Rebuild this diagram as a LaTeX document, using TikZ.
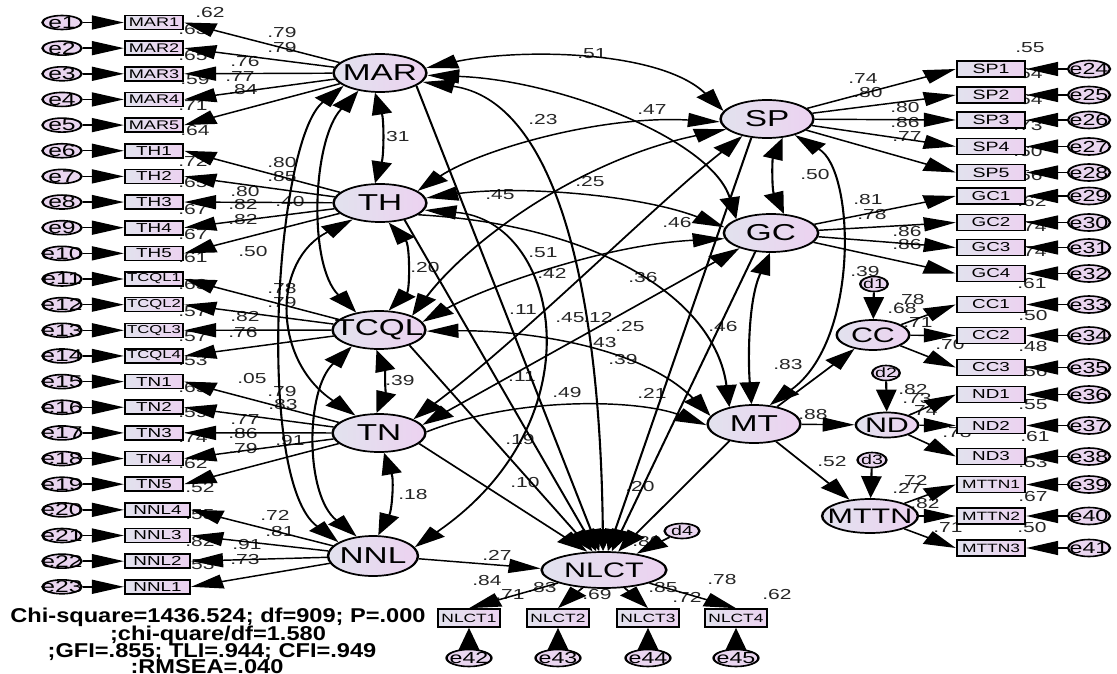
\documentclass[tikz,border=0pt]{standalone}
\usepackage{graphicx}
\usepackage{fontspec}
\setmainfont{Liberation Sans}
\usetikzlibrary{arrows.meta,shapes.geometric}
\definecolor{fL}{RGB}{226,226,238}
\definecolor{fR}{RGB}{236,210,240}
\definecolor{eF}{RGB}{234,214,240}
\newcounter{lbn}
\newcommand\coefl[3]{\stepcounter{lbn}\node[coef] (lb\arabic{lbn}) at (#1,#2) {#3};}
\tikzset{
 arr/.style={-{Triangle[length=22pt,width=14pt]}, line width=1.45pt},
 cov/.style={{Triangle[length=22pt,width=14pt]}-{Triangle[length=22pt,width=14pt]}, line width=1.45pt},
 lat/.style={ellipse, draw, line width=1.7pt, minimum width=64pt, minimum height=38pt, inner sep=0pt, left color=fL, right color=fR},
 latlab/.style={font=\fontsize{23}{23}\selectfont, inner sep=0pt},
 latsm/.style={font=\fontsize{21}{21}\selectfont, inner sep=0pt},
 ind/.style={rectangle, draw, line width=1.6pt, inner sep=0pt, left color=fL, right color=fR},
 err/.style={ellipse, draw, line width=1.6pt, inner sep=0pt, fill=eF},
 etxt/.style={font=\fontsize{17}{17}\selectfont, inner sep=0pt},
 etxr/.style={font=\fontsize{16}{16}\selectfont, inner sep=0pt},
 dtxt/.style={font=\fontsize{13.5}{13.5}\selectfont, inner sep=0pt},
 coef/.style={font=\fontsize{14.5}{14.5}\selectfont, inner sep=0pt, text=black!85},
 stat/.style={font=\fontsize{20}{20}\selectfont\bfseries, inner sep=0pt},
}
\begin{document}
\begin{tikzpicture}[x=1pt,y=-1pt]
\fill[white] (0,0) rectangle (1117,674);
\useasboundingbox (0,0) rectangle (1117,674);
% statistics
\node[stat] (st1) at (218,617) {\scalebox{1.18}[1]{Chi-square=1436.524; df=909; P=.000}};
\node[stat] (st2) at (218,635) {\scalebox{1.18}[1]{;chi-quare/df=1.580}};
\node[stat] (st3) at (212,652) {\scalebox{1.18}[1]{;GFI=.855; TLI=.944; CFI=.949}};
\node[stat] (st4) at (207,667) {\scalebox{1.18}[1]{:RMSEA=.040}};

\begin{scope}[x=0.689655pt, transform canvas={xscale=1.45}]
% ---------- coefficient labels ----------
\coefl{210}{13}{.62}\coefl{193}{30}{.63}\coefl{282}{33}{.79}\coefl{282}{48}{.79}
\coefl{193}{56}{.65}\coefl{245}{62}{.76}\coefl{240}{77}{.77}\coefl{195}{80}{.59}
\coefl{243}{90}{.84}\coefl{193}{106}{.71}\coefl{195}{131}{.64}\coefl{395}{137}{.31}
\coefl{193}{161}{.72}\coefl{282}{163}{.80}\coefl{282}{177}{.85}\coefl{193}{183}{.65}
\coefl{245}{192}{.80}\coefl{290}{202}{.40}\coefl{243}{205}{.82}\coefl{193}{210}{.67}
\coefl{243}{220}{.82}\coefl{193}{235}{.67}\coefl{253}{252}{.50}\coefl{193}{258}{.61}
\coefl{425}{268}{.20}\coefl{193}{285}{.63}\coefl{282}{289}{.78}\coefl{282}{303}{.79}
\coefl{193}{312}{.57}\coefl{245}{317}{.82}\coefl{243}{333}{.76}\coefl{193}{337}{.57}
\coefl{193}{361}{.53}\coefl{252}{379}{.05}\coefl{282}{392}{.79}\coefl{283}{405}{.83}
\coefl{400}{381}{.39}\coefl{193}{388}{.65}\coefl{193}{413}{.59}\coefl{245}{420}{.77}
\coefl{243}{434}{.86}\coefl{193}{438}{.74}\coefl{290}{441}{.91}\coefl{243}{449}{.79}
\coefl{193}{464}{.62}\coefl{200}{488}{.52}\coefl{413}{495}{.18}\coefl{275}{515}{.72}
\coefl{200}{515}{.55}\coefl{280}{532}{.81}\coefl{200}{542}{.82}\coefl{247}{545}{.91}
\coefl{245}{560}{.73}\coefl{200}{565}{.53}
% right
\coefl{1030}{48}{.55}\coefl{1028}{74}{.64}\coefl{1028}{100}{.64}\coefl{1028}{126}{.73}
\coefl{1028}{152}{.60}\coefl{1028}{176}{.56}\coefl{1032}{202}{.62}\coefl{1032}{227}{.74}
\coefl{1032}{252}{.74}\coefl{1032}{284}{.61}\coefl{1033}{316}{.50}\coefl{1033}{347}{.48}
\coefl{1033}{372}{.56}\coefl{1033}{405}{.55}\coefl{1035}{437}{.61}\coefl{1033}{463}{.53}
\coefl{1033}{497}{.67}\coefl{1032}{528}{.50}
\coefl{863}{79}{.74}\coefl{868}{93}{.80}\coefl{905}{108}{.80}\coefl{905}{123}{.86}
\coefl{907}{137}{.77}\coefl{815}{175}{.50}\coefl{868}{200}{.81}\coefl{872}{215}{.78}
\coefl{907}{232}{.86}\coefl{907}{245}{.86}\coefl{865}{272}{.39}\coefl{910}{300}{.78}
\coefl{902}{309}{.68}\coefl{918}{323}{.71}\coefl{950}{345}{.70}\coefl{788}{365}{.83}
\coefl{913}{390}{.82}\coefl{917}{399}{.73}\coefl{923}{411}{.74}\coefl{813}{415}{.88}
\coefl{957}{433}{.78}\coefl{832}{462}{.52}\coefl{913}{480}{.72}\coefl{907}{488}{.27}
\coefl{925}{504}{.82}\coefl{948}{528}{.71}
% centre
\coefl{592}{54}{.51}\coefl{652}{110}{.47}\coefl{543}{120}{.23}\coefl{590}{182}{.25}
\coefl{500}{195}{.45}\coefl{677}{223}{.46}\coefl{543}{253}{.51}\coefl{552}{273}{.42}
\coefl{643}{278}{.36}\coefl{523}{310}{.11}\coefl{570}{318}{.45}\coefl{598}{317}{.12}
\coefl{630}{327}{.25}\coefl{723}{327}{.46}\coefl{602}{343}{.43}\coefl{623}{360}{.39}
\coefl{522}{377}{.11}\coefl{567}{393}{.49}\coefl{652}{393}{.21}\coefl{520}{440}{.19}
\coefl{525}{483}{.10}\coefl{640}{487}{.20}\coefl{647}{542}{.80}\coefl{497}{555}{.27}
\coefl{487}{581}{.84}\coefl{510}{595}{.71}\coefl{542}{588}{.83}\coefl{597}{595}{.69}
\coefl{663}{588}{.85}\coefl{687}{597}{.72}\coefl{722}{580}{.78}\coefl{777}{595}{.62}

% ---------- latent variables ----------
\node[lat, label={[latlab]center:MAR}] (MAR) at (380,73) {};
\node[lat, label={[latlab]center:TH}] (TH) at (380,203) {};
\node[lat, label={[latlab]center:TCQL}] (TCQL) at (379,330) {};
\node[lat, label={[latlab]center:TN}] (TN) at (379,433) {};
\node[lat, minimum width=62pt, minimum height=40pt, label={[latlab]center:NNL}] (NNL) at (373,556) {};
\node[lat, label={[latlab]center:SP}] (SP) at (767,119) {};
\node[lat, minimum width=65pt, label={[latlab]center:GC}] (GC) at (771,233) {};
\node[lat, label={[latlab]center:MT}] (MT) at (754,424) {};
\node[lat, minimum width=50pt, minimum height=30pt, label={[latsm]center:CC}] (CC) at (873,335) {};
\node[lat, minimum width=43pt, minimum height=25pt, label={[latsm]center:ND}] (ND) at (887,425) {};
\node[lat, minimum width=66pt, minimum height=34pt, label={[latsm]center:MTTN}] (MTTN) at (870,516) {};
\node[lat, minimum width=86pt, minimum height=36pt, label={[latsm]center:NLCT}] (NLCT) at (604,570) {};
% disturbances
\node[err, minimum width=19pt, minimum height=15pt, label={[dtxt]center:d1}] (d1) at (874,284) {};
\node[err, minimum width=19pt, minimum height=15pt, label={[dtxt]center:d2}] (d2) at (886,373) {};
\node[err, minimum width=20pt, minimum height=15pt, label={[dtxt]center:d3}] (d3) at (872,460) {};
\node[err, minimum width=24pt, minimum height=15pt, label={[dtxt]center:d4}] (d4) at (682,531) {};

% ---------- left indicators ----------
\foreach \nm/\y/\x/\w/\f [count=\i] in {
MAR1/22.5/154/40/12.5, MAR2/48.15/154/40/12.5, MAR3/73.8/154/40/12.5, MAR4/99.45/154/40/12.5, MAR5/125.1/154/40/12.5,
TH1/150.75/154/40/13, TH2/176.4/154/40/13, TH3/202.05/154/40/13, TH4/227.7/154/40/13, TH5/253.35/154/40/13,
TCQL1/279/154/40/11.5, TCQL2/304.65/154/40/11.5, TCQL3/330.3/154/40/11.5, TCQL4/355.95/154/40/11.5,
TN1/381.6/154/40/13, TN2/407.25/154/40/13, TN3/432.9/154/40/13, TN4/458.55/154/40/13, TN5/484.2/154/40/13,
NNL4/509.85/157.5/44.8/13, NNL3/535.5/157.5/44.8/13, NNL2/561.15/157.5/44.8/13, NNL1/586.8/157.5/44.8/13}{
 \node[ind, minimum width=\w pt, minimum height=14pt, font=\fontsize{\f}{\f}\selectfont] (\nm) at (\x,\y) {\nm};
 \node[err, minimum width=27pt, minimum height=14pt, label={[etxt]center:e\i}] (e\i) at (62,\y) {};
 \draw[arr] (e\i) -- (\nm);
}
% ---------- right indicators ----------
\foreach \nm/\y/\f [count=\i from 24] in {
SP1/69/13.5, SP2/95/13.5, SP3/120/13.5, SP4/146.5/13.5, SP5/172.5/13.5,
GC1/196/13, GC2/222.5/13, GC3/247.5/13, GC4/273.5/13,
CC1/304.5/13, CC2/335.5/13, CC3/367.5/13,
ND1/394.5/13, ND2/425.5/13, ND3/456.5/13,
MTTN1/484.5/12, MTTN2/516/12, MTTN3/548/12}{
 \node[ind, minimum width=47pt, minimum height=16pt, font=\fontsize{\f}{\f}\selectfont] (\nm) at (991,\y) {\nm};
 \node[err, minimum width=29pt, minimum height=17pt, label={[etxr]center:e\i}] (e\i) at (1089,\y) {};
 \draw[arr] (e\i) -- (\nm);
}
% ---------- NLCT indicators ----------
\foreach \nm/\x [count=\i from 42] in {NLCT1/469, NLCT2/558, NLCT3/648, NLCT4/736}{
 \node[ind, minimum width=43pt, minimum height=18pt, font=\fontsize{12}{12}\selectfont] (\nm) at (\x,618) {\nm};
 \node[err, minimum width=31pt, minimum height=17pt, label={[etxr]center:e\i}] (e\i) at (\x,658) {};
 \draw[arr] (e\i) -- (\nm);
 \draw[arr] (NLCT) -- (\nm.north);
}

% ---------- loadings ----------
\foreach \nm in {MAR1,MAR2,MAR3,MAR4,MAR5} \draw[arr] (MAR) -- (\nm.east);
\foreach \nm in {TH1,TH2,TH3,TH4,TH5} \draw[arr] (TH) -- (\nm.east);
\foreach \nm in {TCQL1,TCQL2,TCQL3,TCQL4} \draw[arr] (TCQL) -- (\nm.east);
\foreach \nm in {TN1,TN2,TN3,TN4,TN5} \draw[arr] (TN) -- (\nm.east);
\foreach \nm in {NNL4,NNL3,NNL2,NNL1} \draw[arr] (NNL) -- (\nm.east);
\foreach \nm in {SP1,SP2,SP3,SP4,SP5} \draw[arr] (SP) -- (\nm.west);
\foreach \nm in {GC1,GC2,GC3,GC4} \draw[arr] (GC) -- (\nm.west);
\foreach \nm in {CC1,CC2,CC3} \draw[arr] (CC) -- (\nm.west);
\foreach \nm in {ND1,ND2,ND3} \draw[arr] (ND) -- (\nm.west);
\foreach \nm in {MTTN1,MTTN2,MTTN3} \draw[arr] (MTTN) -- (\nm.west);
\draw[arr] (d1) -- (CC);
\draw[arr] (d2) -- (ND);
\draw[arr] (d3) -- (MTTN);
\draw[arr] (d4) -- (NLCT);

% ---------- covariances, left column ----------
\draw[cov] (MAR.230) .. controls (312,140) and (308,265) .. (TCQL.132);
\draw[cov] (MAR.207) .. controls (275,140) and (255,480) .. (NNL.150);
\draw[cov] (TH.221) .. controls (272,260) and (272,360) .. (TN.133);
\draw[cov] (TCQL.221) .. controls (305,390) and (305,495) .. (NNL.120);
\draw[cov] (MAR.260) .. controls (384,120) and (384,155) .. (TH.100);
\draw[cov] (TH.287) .. controls (410,245) and (410,290) .. (TCQL.71);
\draw[cov] (TCQL.265) .. controls (385,370) and (385,395) .. (TN.95);
\draw[cov] (TN.280) .. controls (394,480) and (392,510) .. (NNL.80);
% ---------- covariances, across ----------
\draw[cov] (MAR.9) .. controls (520,48) and (660,50) .. (SP.165);
\draw[cov] (MAR.356) .. controls (560,80) and (712,140) .. (GC.150);
\draw[cov] (MAR.343) .. controls (550,100) and (600,270) .. (NLCT.92);
\draw[cov] (TH.25) .. controls (480,150) and (600,115) .. (SP.185);
\draw[cov] (TH.9) .. controls (520,185) and (640,195) .. (GC.170);
\draw[cov] (TH.347) .. controls (560,220) and (600,420) .. (NNL.17);
\draw[cov] (TCQL.32) .. controls (470,240) and (580,160) .. (SP.200);
\draw[cov] (TCQL.15) .. controls (480,290) and (600,245) .. (GC.190);
\draw[cov] (TCQL.358) .. controls (520,330) and (640,345) .. (MT.165);
\draw[cov] (TN.30) .. controls (520,340) and (660,200) .. (SP.225);
\draw[cov] (TN.15) -- (GC.215);
\draw[cov] (SP.300) .. controls (772,160) and (772,190) .. (GC.65);
\draw[cov] (SP.320) .. controls (855,170) and (860,340) .. (MT.60);
\draw[cov] (GC.268) .. controls (748,300) and (748,360) .. (MT.95);
% ---------- structural paths ----------
\draw[arr] (TH.336) .. controls (600,225) and (715,300) .. (MT.135);
\draw[arr] (TN.2) .. controls (520,395) and (640,400) .. (MT.182);
\draw[arr] (MAR.333) -- (NLCT.100);
\draw[arr] (TH.315) -- (NLCT.106);
\draw[arr] (TCQL.324) -- (NLCT.113);
\draw[arr] (TN.339) -- (NLCT.122);
\draw[arr] (NNL.355) -- (NLCT.178);
\draw[arr] (SP.240) -- (NLCT.82);
\draw[arr] (GC.240) -- (NLCT.74);
\draw[arr] (MT.225) -- (NLCT.62);
\draw[arr] (MT) -- (CC);
\draw[arr] (MT) -- (ND);
\draw[arr] (MT) -- (MTTN);
\end{scope}
\end{tikzpicture}
\end{document}
